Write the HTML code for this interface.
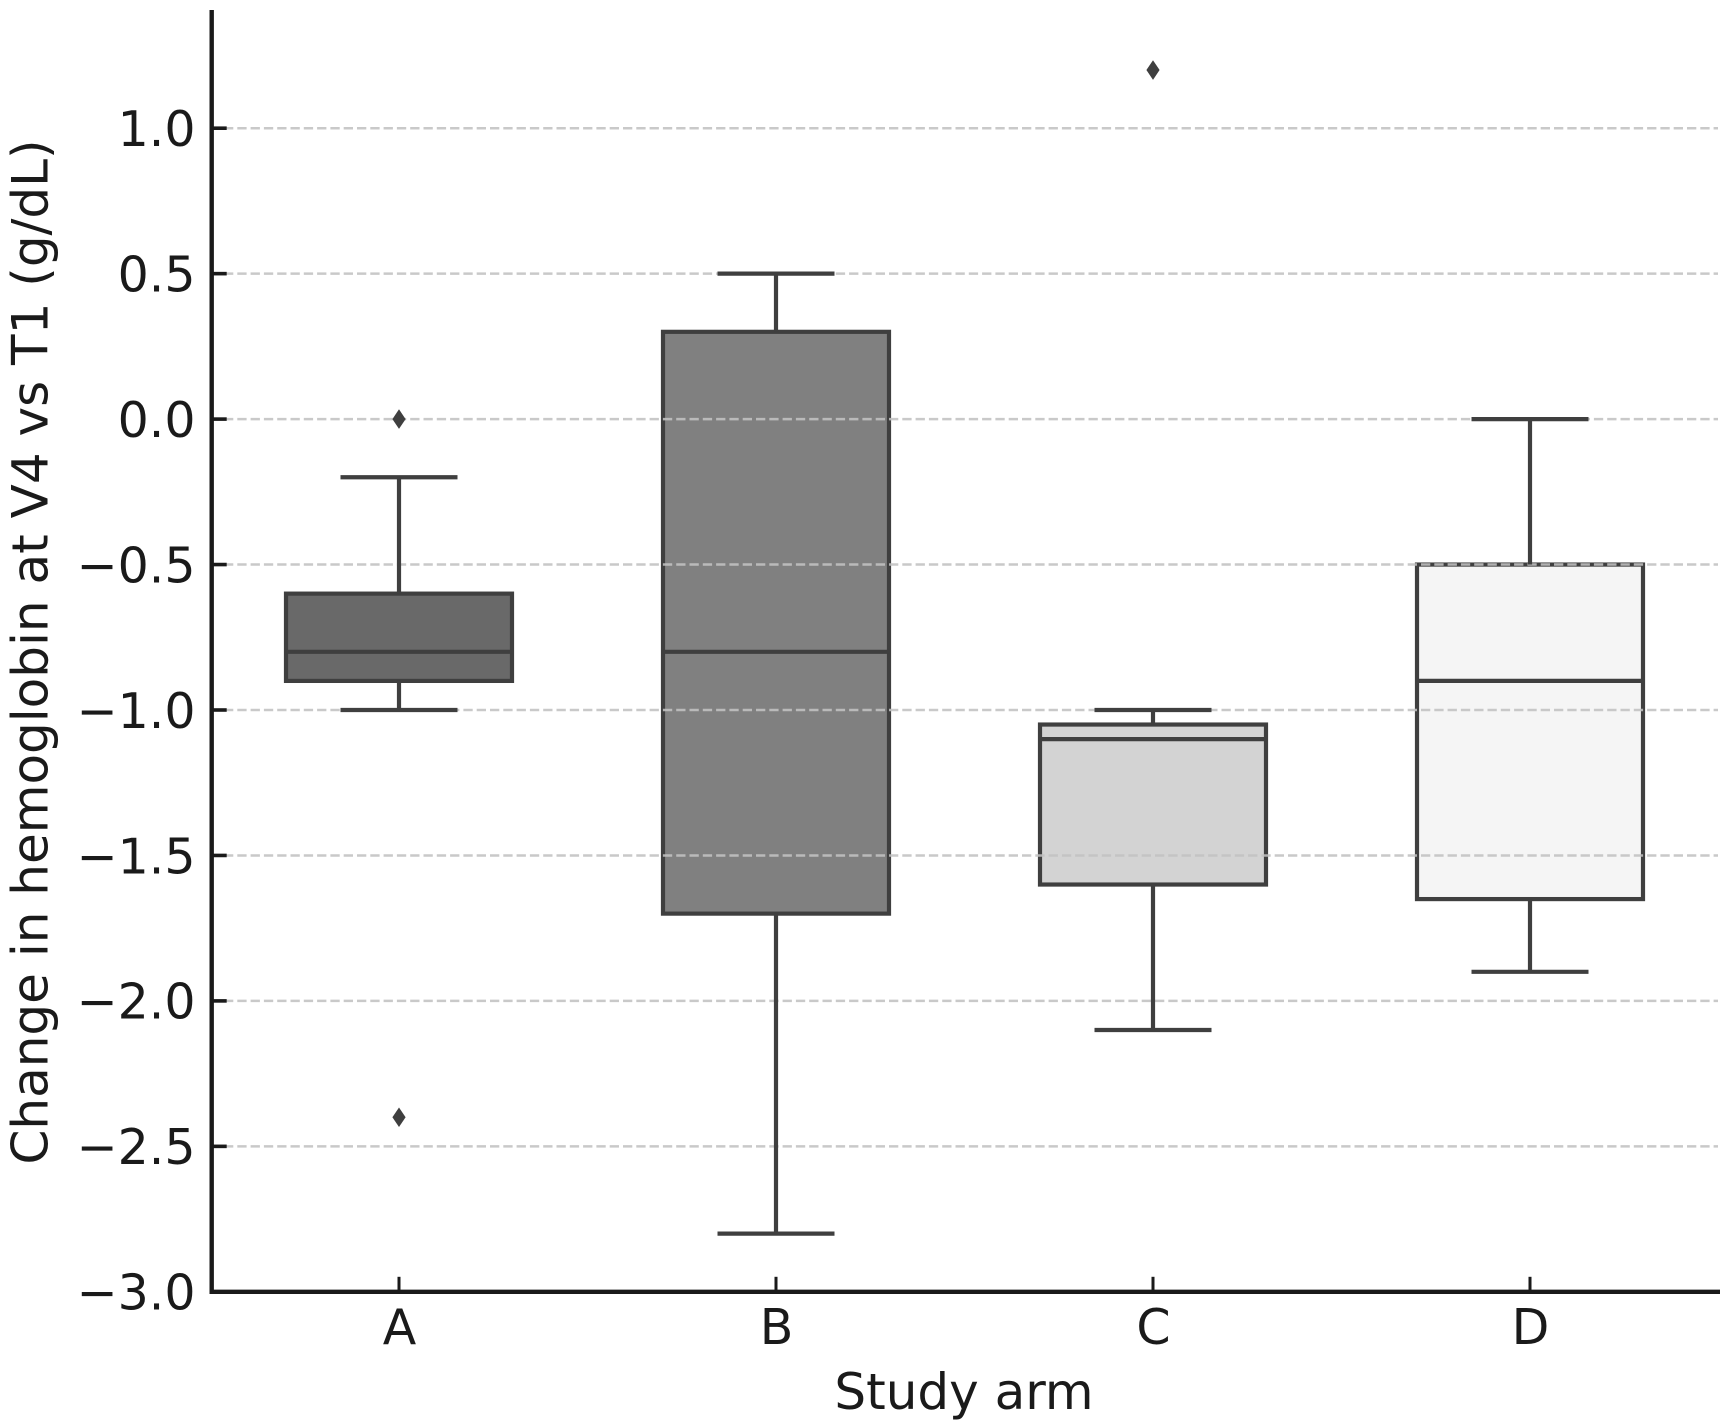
<!DOCTYPE html>
<html lang="en">
<head>
<meta charset="utf-8">
<title>Change in hemoglobin by study arm</title>
<style>
  html, body { margin: 0; padding: 0; background: #ffffff; }
  body { width: 1730px; height: 1428px; overflow: hidden; }
  svg { display: block; }
  text { font-family: "DejaVu Sans", "Liberation Sans", sans-serif; fill: #1a1a1a; }
</style>
</head>
<body>
<svg id="chart" xmlns="http://www.w3.org/2000/svg" width="1730" height="1428" viewBox="0 0 1730 1428"></svg>
<script>
const categories = ["A", "B", "C", "D"];
const lowerWhiskers = [-1.0, -2.8, -2.1, -1.9];
const lowerQuartiles = [-0.9, -1.7, -1.6, -1.65];
const medians = [-0.8, -0.8, -1.1, -0.9];
const upperQuartiles = [-0.6, 0.3, -1.05, -0.5];
const upperWhiskers = [-0.2, 0.5, -1.0, 0.0];
const outliers = [[0.0, -2.4], [], [1.2], []];
const boxFills = ["#696969", "#808080", "#d3d3d3", "#f5f5f5"];
const yTickValues = [1.0, 0.5, 0.0, -0.5, -1.0, -1.5, -2.0, -2.5, -3.0];
const yTickLabels = ["1.0", "0.5", "0.0", "\u22120.5", "\u22121.0", "\u22121.5", "\u22122.0", "\u22122.5", "\u22123.0"];

const SVG_NS = "http://www.w3.org/2000/svg";
const svg = document.getElementById("chart");
const LINE = "#3f3f3f";
const AXIS = "#1a1a1a";
const plotLeft = 211.7;
const plotRight = 1720;
const plotTop = 10;
const plotBottom = 1291.8;
const yMin = -3.0;
const unitHeight = 290.9;
const firstCenter = 399;
const catStep = 377;
const boxWidth = 226;
const capHalf = 58.5;

function yScale(v) { return plotBottom - (v - yMin) * unitHeight; }
function xScale(i) { return firstCenter + i * catStep; }

function make(tag, attrs, parent) {
  const el = document.createElementNS(SVG_NS, tag);
  for (const k in attrs) el.setAttribute(k, attrs[k]);
  (parent || svg).appendChild(el);
  return el;
}
function strokeLine(x1, y1, x2, y2, color, width, parent) {
  return make("line", { x1: x1, y1: y1, x2: x2, y2: y2, stroke: color, "stroke-width": width }, parent);
}

// Box bodies sit beneath the grid
categories.forEach((cat, i) => {
  const top = yScale(upperQuartiles[i]);
  const bottom = yScale(lowerQuartiles[i]);
  const rect = make("rect", {
    x: xScale(i) - boxWidth / 2, y: top, width: boxWidth, height: bottom - top,
    fill: boxFills[i], stroke: LINE, "stroke-width": 4.2
  });
  
  
});

// Horizontal grid
yTickValues.forEach((v, i) => {
  if (v === yMin) return;
  const g = strokeLine(210.7, yScale(v), 1718, yScale(v), "#c2c2c2", 2.5);
  g.setAttribute("stroke-dasharray", "9.3 4");
  g.setAttribute("stroke-opacity", "0.88");
  
  
});

// Whiskers, caps, medians, outliers
categories.forEach((cat, i) => {
  const cx = xScale(i);
  const key = cat.toLowerCase();

  const whiskerLow = strokeLine(cx, yScale(lowerQuartiles[i]), cx, yScale(lowerWhiskers[i]), LINE, 4.2);
  
  

  const whiskerHigh = strokeLine(cx, yScale(upperQuartiles[i]), cx, yScale(upperWhiskers[i]), LINE, 4.2);
  
  

  const capLow = strokeLine(cx - capHalf, yScale(lowerWhiskers[i]), cx + capHalf, yScale(lowerWhiskers[i]), LINE, 4.2);
  
  

  const capHigh = strokeLine(cx - capHalf, yScale(upperWhiskers[i]), cx + capHalf, yScale(upperWhiskers[i]), LINE, 4.2);
  
  

  const median = strokeLine(cx - boxWidth / 2, yScale(medians[i]), cx + boxWidth / 2, yScale(medians[i]), LINE, 4.2);
  
  

  outliers[i].forEach((v) => {
    const py = yScale(v);
    const pt = make("polygon", {
      points: [cx, py - 9.8, cx + 6.6, py, cx, py + 9.8, cx - 6.6, py].join(","),
      fill: LINE
    });
    
    
  });
});

// Y ticks and labels
yTickValues.forEach((v, i) => {
  const y = yScale(v);
  const tick = strokeLine(plotLeft, y, 226.7, y, AXIS, 3.6);
  
  

  const label = make("text", { x: 195.5, y: y + 17.8, "text-anchor": "end", "font-size": 49 });
  label.textContent = yTickLabels[i];
  
  
});

// X ticks and labels
categories.forEach((cat, i) => {
  const cx = xScale(i);
  const tick = strokeLine(cx, plotBottom, cx, plotBottom - 15, AXIS, 3);
  
  

  const label = make("text", { x: cx + 0.5, y: 1344, "text-anchor": "middle", "font-size": 49 });
  label.textContent = cat;
  
  
});

// Spines
const leftSpine = strokeLine(plotLeft, plotTop, plotLeft, plotBottom + 2.2, AXIS, 4.4);



const bottomSpine = strokeLine(plotLeft - 2.2, plotBottom, plotRight, plotBottom, AXIS, 4.4);



// Axis titles
const xTitle = make("text", { x: 964, y: 1409, "text-anchor": "middle", "font-size": 50 });
xTitle.textContent = "Study arm";



const yTitle = make("text", { x: 0, y: 0, "text-anchor": "middle", "font-size": 50, transform: "translate(47.3 652) rotate(-90)" });
yTitle.textContent = "Change in hemoglobin at V4 vs T1 (g/dL)";


</script>
</body>
</html>
